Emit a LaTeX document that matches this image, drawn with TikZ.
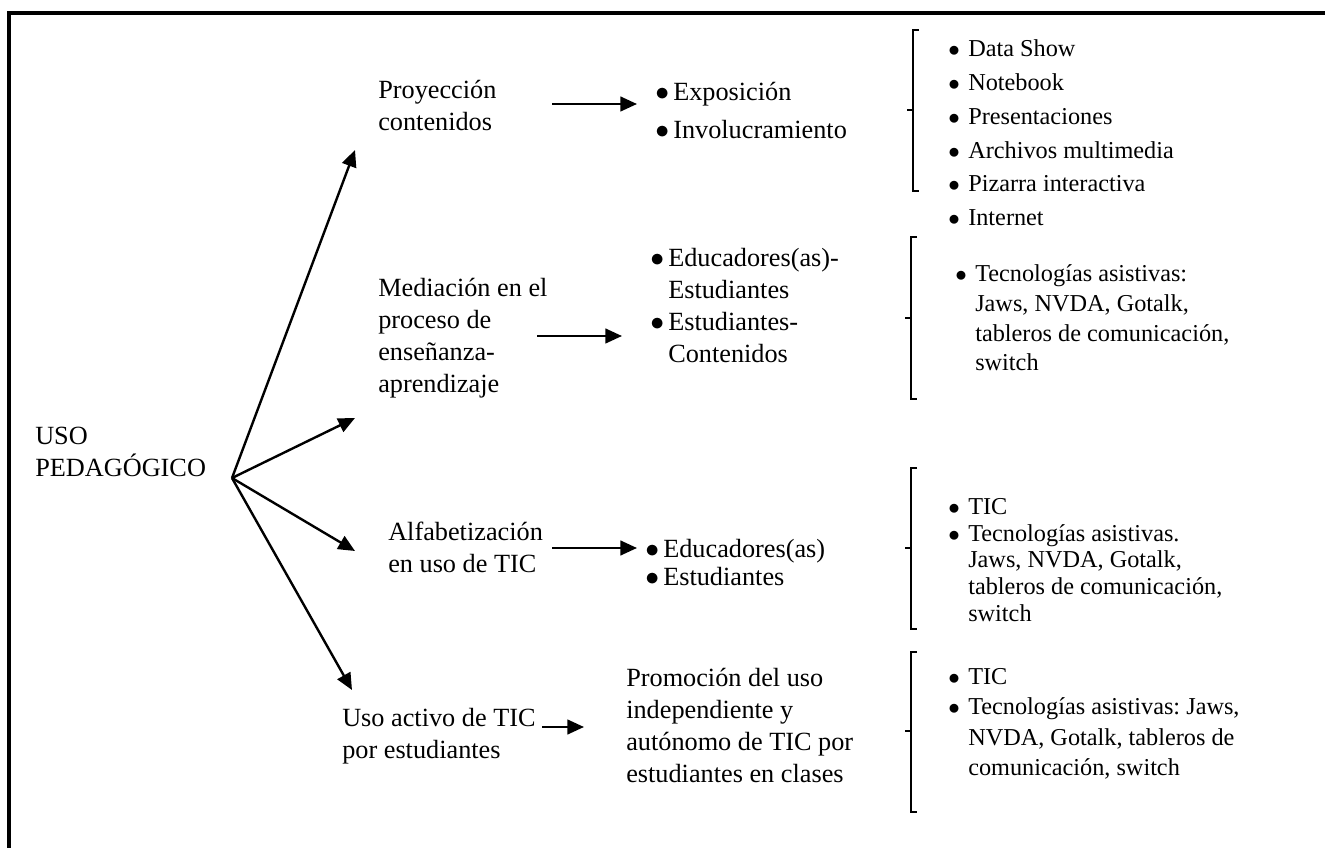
\documentclass[tikz,border=0pt]{standalone}
\usepackage{fontspec}
\setmainfont{Liberation Serif}
\usetikzlibrary{arrows.meta,positioning}
\tikzset{>=latex}
\frenchspacing

\tikzset{
  txt/.style={font=\fontsize{19.7}{24}\selectfont, align=left, inner sep=0pt, anchor=west},
  lst/.style={font=\fontsize{18.2}{25.3}\selectfont, align=left, inner sep=0pt, anchor=west},
  arr/.style={-{Triangle[length=12.5pt,width=11pt]}, line width=1.8pt},
  brk/.style={line width=0.8pt}
}
\newcommand{\bul}{\makebox[13.5pt][l]{$\bullet$}}
\newcommand{\nob}{\hspace*{13.5pt}}
\newcommand{\lbul}{\makebox[15pt][l]{$\bullet$}}
\newcommand{\lnob}{\hspace*{15pt}}

\begin{document}
\begin{tikzpicture}[x=0.75pt,y=-0.75pt]
            \useasboundingbox (0,0) rectangle (1325,848);
            \draw[line width=2.3pt] (9,860) -- (9,13) -- (1340,13);

            % first column
            \node[txt] (uso) at (35,452) {USO\\PEDAGÓGICO};
            \coordinate (hub) at (232,478);

            \node[txt] (proy) at (378,105) {Proyección\\contenidos};
            \node[txt] (medi) at (378,338) {Mediación en el\\proceso de\\enseñanza-\\aprendizaje};
            \node[txt] (alfa) at (388,547) {Alfabetización\\en uso de TIC};
            \node[txt] (acti) at (342,736) {Uso activo de TIC\\por estudiantes};

            \coordinate (p1) at (355,150);
            \coordinate (p2) at (355,418);
            \coordinate (p3) at (355,551);
            \coordinate (p4) at (352,690);

            \draw[arr] (hub) -- (p1);
            \draw[arr] (hub) -- (p2);
            \draw[arr] (hub) -- (p3);
            \draw[arr] (hub) -- (p4);

            % second column
            \node[txt] (expo) at (655,111) {\bul Exposición\\[4.5pt]\bul Involucramiento};
            \node[txt] (educ) at (650,306) {\bul Educadores(as)-\\\nob Estudiantes\\\bul Estudiantes-\\\nob Contenidos};
            \node[txt] (edu2) at (645,563) {\bul Educadores(as)\\[-3pt]\bul Estudiantes};
            \node[txt] (prom) at (626,725) {Promoción del uso\\independiente y\\autónomo de TIC por\\estudiantes en clases};

            \coordinate (a1) at (552,104);
            \coordinate (b1) at (637,104);
            \coordinate (a2) at (537,336);
            \coordinate (b2) at (622,336);
            \coordinate (a3) at (552,548);
            \coordinate (b3) at (637,548);
            \coordinate (a4) at (542,727);
            \coordinate (b4) at (584,727);

            \draw[arr] (a1) -- (b1);
            \draw[arr] (a2) -- (b2);
            \draw[arr] (a3) -- (b3);
            \draw[arr] (a4) -- (b4);

            % brackets
            \draw[brk] (919,30) -- (913,30) -- (913,191) -- (919,191);
            \draw[brk] (913,110) -- (907,110);
            \draw[brk] (917,237) -- (911,237) -- (911,399) -- (917,399);
            \draw[brk] (911,318) -- (905,318);
            \draw[brk] (917,468) -- (911,468) -- (911,629) -- (917,629);
            \draw[brk] (911,548) -- (905,548);
            \draw[brk] (917,652) -- (911,652) -- (911,812) -- (917,812);
            \draw[brk] (911,731) -- (905,731);

            % lists
            \node[lst] (disp) at (948,133) {\lbul Data Show\\\lbul Notebook\\\lbul Presentaciones\\\lbul Archivos multimedia\\\lbul Pizarra interactiva\\\lbul Internet};
            \node[lst] (tec1) at (955,318) {\lbul Tecnologías asistivas:\\[-3pt]\lnob Jaws, NVDA, Gotalk,\\[-3pt]\lnob tableros de comunicación,\\[-3pt]\lnob switch};
            \node[lst] (tec2) at (948,560) {\lbul TIC\\[-5.3pt]\lbul Tecnologías asistivas.\\[-5.3pt]\lnob Jaws, NVDA, Gotalk,\\[-5.3pt]\lnob tableros de comunicación,\\[-5.3pt]\lnob switch};
            \node[lst] (tec3) at (948,724) {\lbul TIC\\[-2.5pt]\lbul Tecnologías asistivas: Jaws,\\[-2.5pt]\lnob NVDA, Gotalk, tableros de\\[-2.5pt]\lnob comunicación, switch};
        \end{tikzpicture}
\end{document}
